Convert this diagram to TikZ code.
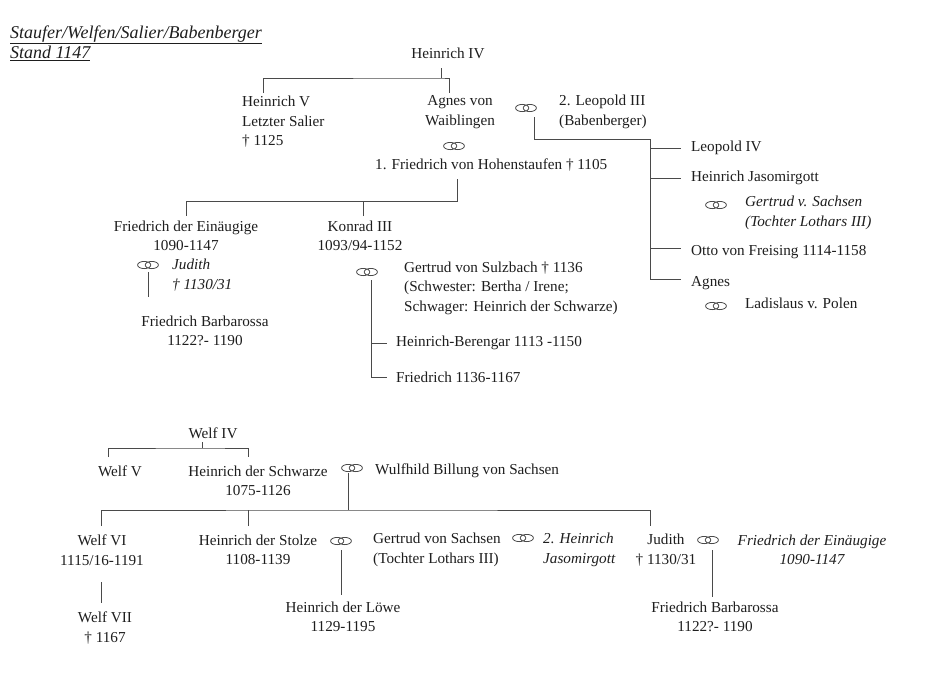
\documentclass[tikz,border=0pt]{standalone}
\usepackage{fontspec}
\setmainfont{Liberation Serif}
\usepackage{tikz}
\usetikzlibrary{calc}
\definecolor{sbInk}{HTML}{1E1E1E}
\definecolor{sbLine}{HTML}{4A4A4A}
\newcommand\stammschrift{\fontsize{15.2}{19.5}\selectfont}
\tikzset{
  person/.style={inner sep=0pt,align=center,text=sbInk,font=\stammschrift},
  person left/.style={person,align=left,anchor=west},
  spouse/.style={person left,font=\stammschrift\itshape},
  ehe/.style={minimum width=24pt,minimum height=11pt,inner sep=0pt,
    path picture={\draw[sbLine,line width=0.8pt]
      ([xshift=-3.8pt]path picture bounding box.center) ellipse [x radius=6.6pt,y radius=3.6pt]
      ([xshift=3.8pt]path picture bounding box.center) ellipse [x radius=6.6pt,y radius=3.6pt];}},
  stamm/.style={draw=sbLine,line width=0.9pt}
}
\begin{document}
\begin{tikzpicture}[x=1pt,y=-1pt]
\useasboundingbox[fill=white] (0,0) rectangle (928,696);
\node[person left,font=\fontsize{18}{20}\selectfont\itshape] (titel) at (10,43) {\underline{Staufer/Welfen/Salier/Babenberger}\\\underline{Stand 1147}};

\node[person] (h4) at (448,53) {Heinrich IV};
\node[person left] (h5) at (242,122) {Heinrich V\\Letzter Salier\\† 1125};
\node[person] (agnes) at (460,112) {Agnes von\\Waiblingen};
\node[ehe] (e1) at (454,146) {};
\node[person left] (fvh) at (375,165) {1. Friedrich von Hohenstaufen † 1105};
\node[ehe] (e2) at (526,108) {};
\node[person left] (leo3) at (559,112) {2. Leopold III\\(Babenberger)};
\node[person left] (leo4) at (691,148) {Leopold IV};
\node[person left] (hjaso) at (691,178) {Heinrich Jasomirgott};
\node[ehe] (e3) at (716,205) {};
\node[spouse] (gerts) at (745,213) {Gertrud v. Sachsen\\(Tochter Lothars III)};
\node[person left] (otto) at (691,252) {Otto von Freising 1114-1158};
\node[person left] (agnes2) at (691,283) {Agnes};
\node[ehe] (e4) at (716,306) {};
\node[person left] (ladis) at (745,303) {Ladislaus v. Polen};

\node[person] (fein) at (186,236) {Friedrich der Einäugige\\1090-1147};
\node[person] (konrad) at (360,236) {Konrad III\\1093/94-1152};
\node[ehe] (e5) at (148,265) {};
\node[spouse] (judith) at (172,275) {Judith\\† 1130/31};
\node[person] (fbar) at (205,331) {Friedrich Barbarossa\\1122?- 1190};
\node[ehe] (e6) at (367,272) {};
\node[person left] (gertsu) at (404,288) {Gertrud von Sulzbach † 1136\\(Schwester: Bertha / Irene;\\Schwager: Heinrich der Schwarze)};
\node[person left] (hber) at (396,343) {Heinrich-Berengar 1113 -1150};
\node[person left] (fried) at (396,377) {Friedrich 1136-1167};

\node[person] (welf4) at (213,433) {Welf IV};
\node[person] (welf5) at (120,471) {Welf V};
\node[person] (hschw) at (258,481) {Heinrich der Schwarze\\1075-1126};
\node[ehe] (e7) at (352,468) {};
\node[person left] (wulf) at (375,471) {Wulfhild Billung von Sachsen};
\node[person] (welf6) at (102,550) {Welf VI\\1115/16-1191};
\node[person] (welf7) at (105,628) {Welf VII\\† 1167};
\node[person] (hstolz) at (258,550) {Heinrich der Stolze\\1108-1139};
\node[ehe] (e8) at (341,541) {};
\node[person] (hloewe) at (343,617) {Heinrich der Löwe\\1129-1195};
\node[person left] (gerts2) at (373,550) {Gertrud von Sachsen\\(Tochter Lothars III)};
\node[ehe] (e9) at (523,538) {};
\node[spouse] (hjaso2) at (543,550) {2. Heinrich\\Jasomirgott};
\node[person] (judith2) at (666,550) {Judith\\† 1130/31};
\node[ehe] (e10) at (708,540) {};
\node[person,font=\stammschrift\itshape] (fein2) at (812,550) {Friedrich der Einäugige\\1090-1147};
\node[person] (fbar2) at (715,617) {Friedrich Barbarossa\\1122?- 1190};

\coordinate (h4 fuss) at (441,68);
\coordinate (h4 gabel) at (441,78);
\coordinate (h5 kopf) at (263,93);
\coordinate (agnes kopf) at (449,93);
\coordinate (fvh fuss) at (457,179);
\coordinate (fvh gabel) at (457,201);
\coordinate (fein kopf) at (186,216);
\coordinate (konrad kopf) at (363,216);
\coordinate (leo fuss) at (534,117);
\coordinate (leo gabel) at (650,139);
\coordinate (e5 fuss) at (148,272);
\coordinate (e5 ende) at (148,297);
\coordinate (e6 fuss) at (371,280);
\coordinate (w4 fuss) at (202,442);
\coordinate (w4 gabel) at (202,448);
\coordinate (w5 kopf) at (108,457);
\coordinate (hschw kopf) at (248,457);
\coordinate (e7 fuss) at (348,473);
\coordinate (e7 gabel) at (348,510);
\coordinate (w6 kopf) at (101,526);
\coordinate (hstolz kopf) at (248,526);
\coordinate (judith kopf) at (650,526);
\coordinate (w6 fuss) at (101,582);
\coordinate (w7 kopf) at (101,603);
\coordinate (e8 fuss) at (341,550);
\coordinate (e8 ende) at (341,595);
\coordinate (e10 fuss) at (712,550);
\coordinate (e10 ende) at (712,597);

\draw[stamm] (h4 fuss) -- (h4 gabel);
\draw[stamm] (h5 kopf) |- (h4 gabel) -| (agnes kopf);
\draw[stamm] (fvh fuss) -- (fvh gabel) -| (fein kopf);
\draw[stamm] (konrad kopf) -- (konrad kopf |- fvh gabel);
\draw[stamm] (leo fuss) |- (leo gabel) -- ([yshift=4pt]leo gabel |- agnes2.west);
\foreach \kind/\dy in {leo4/0,hjaso/0,otto/4,agnes2/4}
  \draw[stamm] ([yshift=\dy pt]leo gabel |- \kind.west) -- ([xshift=-10pt,yshift=\dy pt]\kind.west);
\draw[stamm] (e5 fuss) -- (e5 ende);
\draw[stamm] (e6 fuss) |- ([xshift=-9pt]fried.west);
\draw[stamm] (e6 fuss |- hber.west) -- ([xshift=-9pt]hber.west);
\draw[stamm] (w4 fuss) -- (w4 gabel);
\draw[stamm] (w5 kopf) |- (w4 gabel) -| (hschw kopf);
\draw[stamm] (e7 fuss) -- (e7 gabel);
\draw[stamm] (w6 kopf) |- (e7 gabel) -| (judith kopf);
\draw[stamm] (hstolz kopf) -- (hstolz kopf |- e7 gabel);
\draw[stamm] (w6 fuss) -- (w7 kopf);
\draw[stamm] (e8 fuss) -- (e8 ende);
\draw[stamm] (e10 fuss) -- (e10 ende);
\end{tikzpicture}
\end{document}
